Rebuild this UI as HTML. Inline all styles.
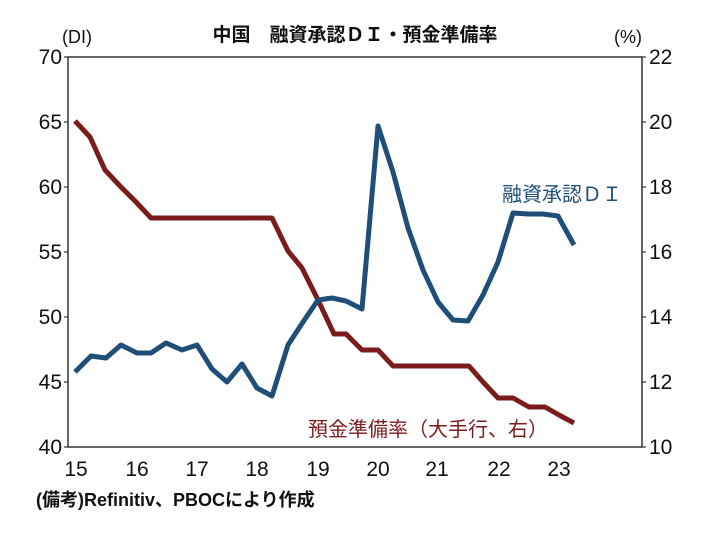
<!DOCTYPE html>
<html><head><meta charset="utf-8"><style>
html,body{margin:0;padding:0;background:#fff;}
svg{display:block;}
text{font-family:"Liberation Sans","Noto Sans CJK JP",sans-serif;}
</style></head><body>
<svg width="714" height="533" viewBox="0 0 714 533" xmlns="http://www.w3.org/2000/svg">
<rect x="0" y="0" width="714" height="533" fill="#fff"/>
<rect x="68" y="57" width="574" height="390" fill="none" stroke="#333" stroke-width="1.5"/>
<g stroke="#333" stroke-width="1.2">
<line x1="64" y1="57" x2="68" y2="57"/><line x1="64" y1="122" x2="68" y2="122"/><line x1="64" y1="187" x2="68" y2="187"/><line x1="64" y1="252" x2="68" y2="252"/><line x1="64" y1="317" x2="68" y2="317"/><line x1="64" y1="382" x2="68" y2="382"/><line x1="64" y1="447" x2="68" y2="447"/>
<line x1="642" y1="57" x2="646" y2="57"/><line x1="642" y1="122" x2="646" y2="122"/><line x1="642" y1="187" x2="646" y2="187"/><line x1="642" y1="252" x2="646" y2="252"/><line x1="642" y1="317" x2="646" y2="317"/><line x1="642" y1="382" x2="646" y2="382"/><line x1="642" y1="447" x2="646" y2="447"/>
</g>
<g font-size="21" fill="#111" text-anchor="end">
<text x="62" y="64">70</text><text x="62" y="129">65</text><text x="62" y="194">60</text><text x="62" y="259">55</text><text x="62" y="324">50</text><text x="62" y="389">45</text><text x="62" y="454">40</text>
</g>
<g font-size="21" fill="#111" text-anchor="start">
<text x="649" y="64">22</text><text x="649" y="129">20</text><text x="649" y="194">18</text><text x="649" y="259">16</text><text x="649" y="324">14</text><text x="649" y="389">12</text><text x="649" y="454">10</text>
</g>
<g font-size="21" fill="#111" text-anchor="middle">
<text x="76" y="476">15</text><text x="137" y="476">16</text><text x="197" y="476">17</text><text x="257" y="476">18</text><text x="318" y="476">19</text><text x="378" y="476">20</text><text x="437" y="476">21</text><text x="499" y="476">22</text><text x="559" y="476">23</text>
</g>
<text x="62" y="43" font-size="18" fill="#111">(DI)</text>
<text x="614" y="43" font-size="18" fill="#111">(%)</text>
<text x="355" y="41" font-size="19" font-weight="bold" fill="#111" text-anchor="middle">中国　融資承認ＤＩ・預金準備率</text>
<text x="36" y="506" font-size="18" font-weight="bold" fill="#111">(備考)Refinitiv、PBOCにより作成</text>
<polyline fill="none" stroke="#7b1c1c" stroke-width="5" stroke-linejoin="round" points="75,121 90,137 105,170 120,186 136,202 151,218 166,218 182,218 197,218 212,218 227,218 242,218 257,218 272,218 288,251 302,268 318,300 334,334 346,334 362,350 378,350 393,366 408,366 423,366 438,366 453,366 469,366 483,382 498,398 513,398 529,407 545,407 559,415 574,423"/>
<polyline fill="none" stroke="#1f4e79" stroke-width="5" stroke-linejoin="round" points="75,372 91,356 106,358 121,345 137,353 151,353 166,343 182,350 197,345 212,369 227,382 242,364 257,388 272,396 288,345 303,322 318,300 332,298 346,301 362,309 378,126 393,172 408,228 423,270 438,302 453,320 468,321 483,295 498,262 513,213 528,214 543,214 558,216 574,245"/>
<text x="502" y="201" font-size="20" fill="#1f4e79">融資承認ＤＩ</text>
<text x="308" y="436" font-size="20" fill="#7b1c1c">預金準備率（大手行、右）</text>
</svg>
</body></html>
